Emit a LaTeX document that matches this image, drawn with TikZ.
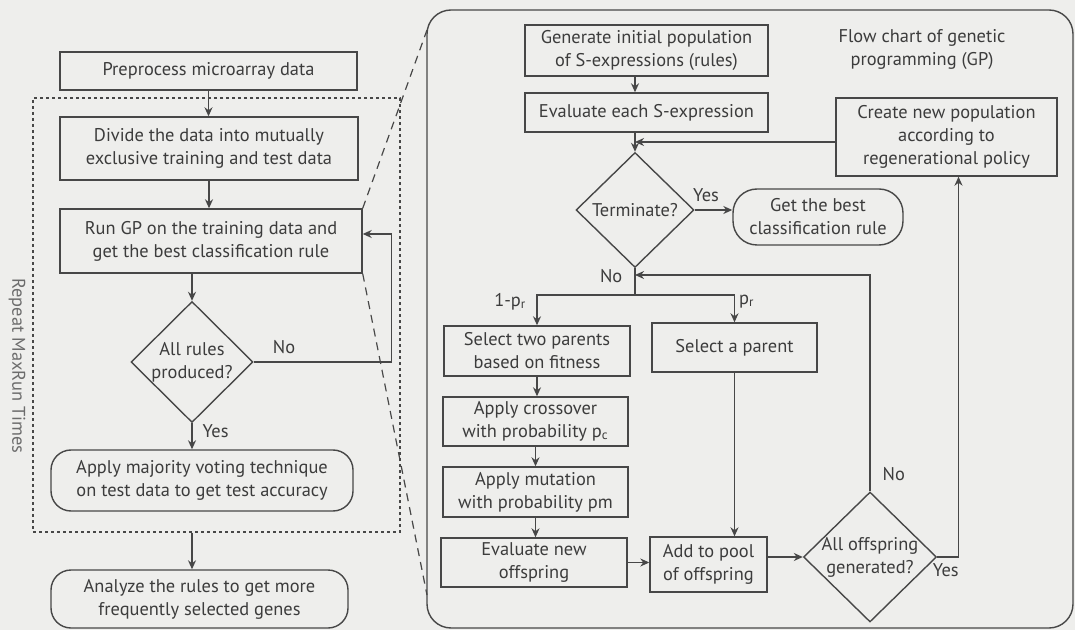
\documentclass[tikz,border=0pt]{standalone}
\usepackage{fontspec}
\setmainfont{PT Sans}
\usetikzlibrary{arrows.meta}
\usetikzlibrary{shapes.geometric}
\definecolor{ink}{HTML}{474747}
\definecolor{paper}{HTML}{EEEEEC}

\begin{document}
\begin{tikzpicture}[x=0.5pt, y=-0.5pt,
  font=\fontsize{9.2}{11.5}\selectfont, text=ink!85!black,
  box/.style={draw=ink, line width=0.7pt, align=center, inner sep=1pt},
  rbox/.style={box, rounded corners=10pt},
  decision/.style={draw=ink, line width=0.7pt, diamond, inner sep=0pt},
  arr/.style={draw=ink, line width=0.7pt, -{Stealth[length=4.5pt,width=4pt]}},
  line/.style={draw=ink, line width=0.7pt},
  lbl/.style={inner sep=1pt}]

  % background of the page
  \fill[paper] (0,0) rectangle (1075,630);

  % left column: the whole experiment
  \node[box, minimum width=148.5pt, minimum height=19pt] (prep) at (208.5,71) {Preprocess microarray data};
  \node[draw=ink, line width=0.6pt, dash pattern=on 1.5pt off 1.5pt, minimum width=183.5pt, minimum height=217pt] (repeat) at (216.5,315) {};
  \node[box, minimum width=149pt, minimum height=31.5pt] (divide) at (209,148.5) {Divide the data into mutually\\exclusive training and test data};
  \node[box, minimum width=151pt, minimum height=32pt] (rungp) at (211,241) {Run GP on the training data and\\get the best classification rule};
  \node[decision, minimum width=61pt, minimum height=60.5pt] (allrules) at (192,362) {};
  \node[lbl, align=center] at (allrules) {All rules\\produced?};
  \node[rbox, minimum width=151pt, minimum height=30.5pt] (vote) at (202,480.5) {Apply majority voting technique\\on test data to get test accuracy};
  \node[rbox, minimum width=148.5pt, minimum height=29pt] (analyze) at (199.5,599) {Analyze the rules to get more\\frequently selected genes};
  \node[rotate=-90, text=ink!80] (maxrun) at (17,366) {Repeat MaxRun Times};

  % right panel: flow chart of GP
  \node[draw=ink, line width=0.7pt, rounded corners=12pt, minimum width=323pt, minimum height=309pt] (gp) at (750,319) {};
  \coordinate (zoomtop) at (427,30);
  \coordinate (zoombot) at (427,595);

  \node[box, minimum width=121.5pt, minimum height=25.5pt] (gen) at (646.5,50.5) {Generate initial population\\of S-expressions (rules)};
  \node[box, minimum width=121.5pt, minimum height=19.5pt] (evals) at (646.5,112.5) {Evaluate each S-expression};
  \node[align=center] (title) at (922,50) {Flow chart of genetic\\programming (GP)};
  \node[box, minimum width=110.5pt, minimum height=39pt] (create) at (946.5,137) {Create new population\\according to\\regenerational policy};
  \node[decision, minimum width=59pt, minimum height=57.5pt] (term) at (635,210) {};
  \node[lbl] at (term) {Terminate?};
  \node[box, rounded corners=12pt, minimum width=85pt, minimum height=28pt] (best) at (818,217) {Get the best\\classification rule};

  \node[box, minimum width=93pt, minimum height=25pt] (seltwo) at (537,351) {Select two parents\\based on fitness};
  \node[box, minimum width=92.5pt, minimum height=24.5pt] (cross) at (535.5,421.5) {Apply crossover\\with probability p\textsubscript{c}};
  \node[box, minimum width=92.5pt, minimum height=25pt] (mut) at (535.5,492) {Apply mutation\\with probability pm};
  \node[box, minimum width=93pt, minimum height=24.5pt] (evalnew) at (534,562.5) {Evaluate new\\offspring};
  \node[box, minimum width=82.5pt, minimum height=24.5pt] (selone) at (734.5,347.5) {Select a parent};
  \node[box, minimum width=58.5pt, minimum height=27.5pt] (pool) at (708.5,564.5) {Add to pool\\of offspring};
  \node[decision, minimum width=66.5pt, minimum height=65pt] (alloff) at (870,557) {};
  \node[lbl, align=center] at (alloff) {All offspring\\generated?};

  \coordinate (merge) at (635,142);
  \coordinate (split) at (635,295);
  \coordinate (back) at (635,275);

  % Draw the arrows of the left column
  \draw[arr] (prep.south) -- (prep.south |- divide.north);
  \draw[arr] (divide.south) -- (divide.south |- rungp.north);
  \draw[arr] (rungp.south -| allrules) -- (allrules.north);
  \draw[arr] (allrules.south) -- (vote.north -| allrules) node[lbl, pos=0.3, right=4pt] {Yes};
  \draw[arr] (allrules.east) -- ++(138,0) node[lbl, pos=0.22, above=3pt] {No} |- ([yshift=3.5pt]rungp.east);
  \draw[arr] (repeat.south -| allrules) -- (analyze.north -| allrules);

  % dashed lines of the zoom
  \draw[ink, line width=0.6pt, dash pattern=on 4pt off 3pt] (rungp.north east) -- (zoomtop);
  \draw[ink, line width=0.6pt, dash pattern=on 4pt off 3pt] (rungp.south east) -- (zoombot);

  % Draw the arrows of the GP panel
  \draw[arr] (gen.south -| term) -- (evals.north -| term);
  \draw[arr] (evals.south -| term) -- (term.north);
  \draw[arr] (create.west |- merge) -- (merge);
  \draw[arr] (term.east) -- (term.east -| best.west) node[lbl, pos=0.3, above=3pt] {Yes};
  \draw[line] (term.south) -- (split) node[lbl, pos=0.3, left=5pt] {No};
  \draw[arr] (split) -| (seltwo.north) node[lbl, pos=0.62, left=4pt] {1-p\textsubscript{r}};
  \draw[arr] (split) -| (selone.north) node[lbl, pos=0.62, right=1pt] {p\textsubscript{r}};
  \draw[arr] (seltwo.south) -- (seltwo.south |- cross.north);
  \draw[arr] (cross.south) -- (cross.south |- mut.north);
  \draw[arr] (mut.south) -- (mut.south |- evalnew.north);
  \draw[arr] (evalnew.east) -- (evalnew.east -| pool.west);
  \draw[arr] (selone.south) -- (selone.south |- pool.north);
  \draw[arr] (pool.east |- alloff) -- (alloff.west);
  \draw[arr] (alloff.north) |- (back) node[lbl, pos=0.04, right=5pt] {No};
  \draw[arr] (alloff.east) -| ([xshift=6pt]create.south) node[lbl, pos=0.2, below=2pt] {Yes};
\end{tikzpicture}
\end{document}
